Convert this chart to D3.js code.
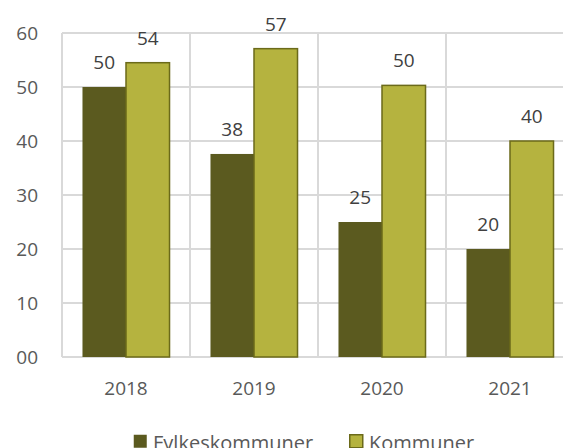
<!DOCTYPE html>
<html>
<head>
<meta charset="utf-8">
<script src="https://cdn.jsdelivr.net/npm/d3@7"></script>
<style>
  body { margin: 0; background: #fff; }
  svg { display: block; font-family: "Open Sans", sans-serif; }
</style>
</head>
<body>
<div id="chart"></div>
<script>
let years = ["2018", "2019", "2020", "2021"];
let seriesNames = ["Fylkeskommuner", "Kommuner"];
let fylkeskommuner = [50, 37.6, 25, 20];
let kommuner = [54.5, 57.1, 50.3, 40];
let valueLabels = [["50", "38", "25", "20"], ["54", "57", "50", "40"]];
let yTicks = [0, 10, 20, 30, 40, 50, 60];
let yTickLabels = ["00", "10", "20", "30", "40", "50", "60"];

let dims = {
  width: 563,
  height: 448,
  margin: { top: 33, right: -11, bottom: 91, left: 62 }
};
dims.boundedWidth = dims.width - dims.margin.left - dims.margin.right;
dims.boundedHeight = dims.height - dims.margin.top - dims.margin.bottom;

let colors = ["#5b5a1f", "#b5b33f"];
let strokes = [null, "#6b6a1a"];

let svg = d3.select("#chart")
  .append("svg")
  .attr("width", dims.width)
  .attr("height", dims.height);

let g = svg.append("g")
  .attr("transform", `translate(${dims.margin.left},${dims.margin.top})`);

let x0 = d3.scaleBand()
  .domain(years)
  .range([0, dims.boundedWidth]);

let gap = x0.bandwidth() * 0.16;
let x1 = d3.scaleBand()
  .domain(seriesNames)
  .range([gap, x0.bandwidth() - gap]);

let y = d3.scaleLinear()
  .domain([0, 60])
  .range([dims.boundedHeight, 0]);

// horizontal gridlines
g.selectAll(".hgrid")
  .data(yTicks)
  .enter()
  .append("line")
  .attr("x1", 0)
  .attr("x2", dims.boundedWidth)
  .attr("y1", d => y(d))
  .attr("y2", d => y(d))
  .style("stroke", "#d9d9d9")
  .style("stroke-width", 2);

// vertical gridlines at category edges
g.selectAll(".vgrid")
  .data(years.concat(["end"]))
  .enter()
  .append("line")
  .attr("x1", (d, i) => i < years.length ? x0(d) : dims.boundedWidth)
  .attr("x2", (d, i) => i < years.length ? x0(d) : dims.boundedWidth)
  .attr("y1", 0)
  .attr("y2", dims.boundedHeight)
  .style("stroke", "#d9d9d9")
  .style("stroke-width", 2);

// y labels
g.selectAll(".ylab")
  .data(yTicks)
  .enter()
  .append("text")
  .attr("x", -24)
  .attr("y", d => y(d))
  .attr("dy", "0.36em")
  .attr("text-anchor", "end")
  .attr("font-size", 19)
  .attr("fill", "#595959")
  .text((d, i) => yTickLabels[i]);

// x labels
g.selectAll(".xlab")
  .data(years)
  .enter()
  .append("text")
  .attr("x", d => x0(d) + x0.bandwidth() / 2)
  .attr("y", dims.boundedHeight + 38)
  .attr("text-anchor", "middle")
  .attr("font-size", 19)
  .attr("fill", "#595959")
  .text(d => d);

let series = [fylkeskommuner, kommuner];

series.forEach(function (vals, s) {
  let grp = g.append("g");
  grp.selectAll("rect")
    .data(vals)
    .enter()
    .append("rect")
    .attr("x", (d, i) => x0(years[i]) + x1(seriesNames[s]))
    .attr("y", d => y(d))
    .attr("width", x1.bandwidth())
    .attr("height", d => dims.boundedHeight - y(d))
    .attr("fill", colors[s])
    .style("stroke", strokes[s] || "none")
    .style("stroke-width", 1.5);

  grp.selectAll("text")
    .data(vals)
    .enter()
    .append("text")
    .attr("x", (d, i) => x0(years[i]) + x1(seriesNames[s]) + x1.bandwidth() / 2)
    .attr("y", d => y(d) - 18)
    .attr("text-anchor", "middle")
    .attr("font-size", 19)
    .attr("fill", "#404040")
    .text((d, i) => valueLabels[s][i]);
});

// legend
let legendX = [133, 349];
let legend = svg.selectAll(".legend")
  .data(seriesNames)
  .enter()
  .append("g")
  .attr("transform", (d, i) => `translate(${legendX[i]},434)`);

legend.append("rect")
  .attr("x", 0.75)
  .attr("y", 0.75)
  .attr("width", 13)
  .attr("height", 13)
  .attr("fill", (d, i) => colors[i])
  .style("stroke", (d, i) => strokes[i] || "none")
  .style("stroke-width", 1.5);

legend.append("text")
  .attr("x", 20)
  .attr("y", 16)
  .attr("font-size", 20)
  .attr("fill", "#595959")
  .text(d => d);
</script>
</body>
</html>
